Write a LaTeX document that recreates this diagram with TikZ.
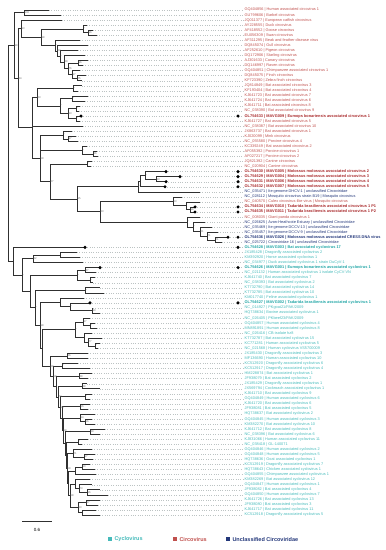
\documentclass[tikz,border=0pt]{standalone}
\usepackage{fontspec}
\setmainfont{Liberation Sans}
\usetikzlibrary{positioning,calc}
\definecolor{cRed}   {HTML}{C0504D}
\definecolor{cRedDk} {HTML}{A8282A}
\definecolor{cTeal}  {HTML}{45BABA}
\definecolor{cTealDk}{HTML}{1FA5A5}
\definecolor{cNavy}  {HTML}{23377A}
\definecolor{cBoot}  {HTML}{6A6A6A}
\definecolor{cLead}  {HTML}{BCC3C3}
\definecolor{cEdge}  {HTML}{303030}

\begin{document}
\begin{tikzpicture}[
  x=1pt, y=-5.05pt,
  br/.style={draw=cEdge, line width=0.55pt},
  leader/.style={draw=cLead, dotted, line width=0.35pt, shorten >=1.5pt},
  lab/.style={anchor=west, inner sep=0pt, font=\fontsize{3.85}{4}\selectfont},
  cr/.style={text=cRed},
  crb/.style={text=cRedDk, font=\fontsize{3.9}{4}\selectfont\bfseries},
  un/.style={text=cNavy},
  unb/.style={text=cNavy, font=\fontsize{3.9}{4}\selectfont\bfseries},
  cy/.style={text=cTeal},
  cyb/.style={text=cTealDk, font=\fontsize{3.9}{4}\selectfont\bfseries},
  tipdot/.style={circle, fill=black, inner sep=0pt, minimum size=3.4pt},
  bs/.style={anchor=west, inner sep=0.4pt, text=cBoot, font=\fontsize{2.7}{3}\selectfont},
  lgsq/.style={minimum size=4.2pt, inner sep=0pt},
  lgtxt/.style={anchor=west, inner sep=0pt, font=\fontsize{5.5}{6}\selectfont\bfseries},
]
\useasboundingbox (0,-0.98) rectangle (385,107.93);

% ---- leaves, labels and leaders
\foreach \r/\tx/\st/\txt in {
  1/49/cr/{GQ404856 | Human associated circovirus 1},
  2/61/cr/{GU799606 | Barbel circovirus},
  3/62/cr/{JQ011377 | European catfish circovirus},
  4/87/cr/{AY228555 | Duck circovirus},
  5/93/cr/{AF418552 | Goose circovirus},
  6/97/cr/{EU056309 | Swan circovirus},
  7/80/cr/{AF311295 | Beak and feather disease virus},
  8/88/cr/{DQ845074 | Gull circovirus},
  9/78/cr/{AF252610 | Pigeon circovirus},
  10/85/cr/{DQ172906 | Starling circovirus},
  11/88/cr/{AJ301633 | Canary circovirus},
  12/83/cr/{DQ146997 | Raven circovirus},
  13/80/cr/{GQ404851 | Chimpanzee associated circovirus 1},
  14/86/cr/{DQ845075 | Finch circovirus},
  15/82/cr/{KF723390 | Zebra finch circovirus},
  16/82/cr/{JQ814849 | Bat associated circovirus 3},
  17/78/cr/{KF193404 | Bat associated circovirus 4},
  18/88/cr/{KJ641723 | Bat associated circovirus 7},
  19/85/cr/{KJ641724 | Bat associated circovirus 6},
  20/80/cr/{KJ641711 | Bat associated circovirus 8},
  21/79/cr/{NC\_038390 | Bat associated circovirus 9},
  22/81/crb/{OL754633 | MAVG009 | Eumops bonariensis associated circovirus 1},
  23/80/cr/{KJ641727 | Bat associated circovirus 5},
  24/83/cr/{NC\_038387 | Bat associated circovirus 10},
  25/72/cr/{JX863737 | Bat associated circovirus 1},
  26/76/cr/{KJ020099 | Mink circovirus},
  27/78/cr/{NC\_055580 | Porcine circovirus 4},
  28/87/cr/{KC339249 | Bat associated circovirus 2},
  29/97/cr/{AF055392 | Porcine circovirus 1},
  30/98/cr/{AF027217 | Porcine circovirus 2},
  31/92/cr/{JQ821392 | Canine circovirus},
  32/91/cr/{NC\_020904 | Canine circovirus},
  33/166/crb/{OL754630 | MAVG005 | Molossus molossus associated circovirus 2},
  34/180/crb/{OL754629 | MAVG004 | Molossus molossus associated circovirus 3},
  35/166/crb/{OL754631 | MAVG006 | Molossus molossus associated circovirus 4},
  36/165/crb/{OL754632 | MAVG007 | Molossus molossus associated circovirus 5},
  37/200/un/{NC\_035471 | Ite genome DHCV-1 | unclassified Circoviridae},
  38/182/un/{NC\_028112 | Mosquito circovirus strain B19 | Mosquito circovirus},
  39/200/cr/{NC\_040570 | Culex circovirus-like virus | Mosquito circovirus},
  40/195/crb/{OL754634 | MAVG010 | Tadarida brasiliensis associated circovirus 1 P1},
  41/195/crb/{OL754635 | MAVG011 | Tadarida brasiliensis associated circovirus 1 P2},
  42/200/cr/{NC\_008035 | Giant panda circovirus 1},
  43/205/un/{NC\_026625 | Avon-Heathcote Estuary | unclassified Circoviridae},
  44/212/un/{NC\_035469 | Ite genome DCCV-13 | unclassified Circoviridae},
  45/218/un/{NC\_035457 | Ite genome DCCV-9 | unclassified Circoviridae},
  46/228/unb/{OL754636 | MAVG026 | Molossus molossus associated CRESS DNA virus},
  47/222/un/{NC\_025722 | Circoviridae 16 | unclassified Circoviridae},
  48/85/cyb/{OL754628 | MAVG003 | Bat associated cyclovirus 17},
  49/77/cy/{JX185428 | Dragonfly associated cyclovirus 2},
  50/80/cy/{KM392920 | Horse associated cyclovirus 1},
  51/83/cy/{NC\_034977 | Duck associated cyclovirus 1 strain DuCyV-1},
  52/100/cyb/{OL754626 | MAVG001 | Eumops bonariensis associated cyclovirus 1},
  53/96/cy/{NC\_021132 | Human associated cyclovirus 1 isolate CyCV-VN},
  54/95/cy/{KJ641740 | Bat associated cyclovirus 7},
  55/93/cy/{NC\_038393 | Bat associated cyclovirus 2},
  56/100/cy/{KT732790 | Bat associated cyclovirus 14},
  57/104/cy/{KT732785 | Bat associated cyclovirus 10},
  58/84/cy/{KM017740 | Feline associated cyclovirus 1},
  59/90/cyb/{OL754627 | MAVG002 | Tadarida brasiliensis associated cyclovirus 1},
  60/93/cy/{NC\_014927 | PKgoat21/PAK/2009},
  61/100/cy/{HQ738634 | Bovine associated cyclovirus 1},
  62/90/cy/{NC\_026405 | PKbeef23/PAK/2009},
  63/95/cy/{GQ404857 | Human associated cyclovirus 4},
  64/97/cy/{MN891891 | Human associated cyclovirus 8},
  65/92/cy/{NC\_026416 | CB-isolate hz8},
  66/102/cy/{KT732787 | Bat associated cyclovirus 15},
  67/100/cy/{KC771281 | Human associated cyclovirus 5},
  68/98/cy/{NC\_021568 | Human cyclovirus VS5700009},
  69/88/cy/{JX185430 | Dragonfly associated cyclovirus 3},
  70/88/cy/{MF136690 | Human associated cyclovirus 10},
  71/78/cy/{KC512920 | Dragonfly associated cyclovirus 6},
  72/90/cy/{KC512917 | Dragonfly associated cyclovirus 4},
  73/92/cy/{HM228874 | Bat associated cyclovirus 1},
  74/88/cy/{JF938079 | Bat associated cyclovirus 2},
  75/87/cy/{JX185429 | Dragonfly associated cyclovirus 1},
  76/100/cy/{JX569794 | Cockroach associated cyclovirus 1},
  77/92/cy/{KJ641710 | Bat associated cyclovirus 9},
  78/90/cy/{GQ404849 | Human associated cyclovirus 6},
  79/90/cy/{KJ641720 | Bat associated cyclovirus 6},
  80/88/cy/{JF938081 | Bat associated cyclovirus 5},
  81/95/cy/{HQ738637 | Bat associated cyclovirus 2},
  82/92/cy/{GQ404845 | Human associated cyclovirus 3},
  83/95/cy/{KM382270 | Bat associated cyclovirus 10},
  84/105/cy/{KJ641712 | Bat associated cyclovirus 8},
  85/100/cy/{NC\_038396 | Bat associated cyclovirus 6},
  86/88/cy/{KJ831066 | Human associated cyclovirus 11},
  87/82/cy/{NC\_038418 | GL-140071},
  88/92/cy/{GQ404846 | Human associated cyclovirus 2},
  89/95/cy/{GQ404848 | Human associated cyclovirus 5},
  90/93/cy/{HQ738636 | Goat associated cyclovirus 1},
  91/90/cy/{KC512919 | Dragonfly associated cyclovirus 7},
  92/95/cy/{HQ738643 | Chicken associated cyclovirus 1},
  93/96/cy/{GQ404855 | Chimpanzee associated cyclovirus 1},
  94/90/cy/{KM382269 | Bat associated cyclovirus 12},
  95/92/cy/{GQ404847 | Human associated cyclovirus 1},
  96/100/cy/{JF938082 | Bat associated cyclovirus 4},
  97/108/cy/{GQ404850 | Human associated cyclovirus 7},
  98/100/cy/{KJ641726 | Bat associated cyclovirus 13},
  99/98/cy/{JF938080 | Bat associated cyclovirus 3},
  100/96/cy/{KJ641717 | Bat associated cyclovirus 11},
  101/100/cy/{KC512918 | Dragonfly associated cyclovirus 5}}{
  \coordinate (t\r) at (\tx,\r);
  \node[lab,\st] (l\r) at (244.5,\r) {\txt};
  \draw[leader] (t\r) -- (l\r.west);
}

% ---- inner nodes, circovirus part
\coordinate (R)   at (8,29.37);
\coordinate (P)   at (14,8.0);
\coordinate (P2)  at (18,14.5);
\coordinate (A)   at (24,1.5);
\coordinate (B)   at (21,4.70);
\coordinate (C)   at (41,6.39);
\coordinate (D)   at (83,4.75);
\coordinate (F)   at (88,5.5);
\coordinate (E)   at (55,8.04);
\coordinate (H6)  at (57,9.08);
\coordinate (H6b) at (60,10.16);
\coordinate (H5)  at (64,11.31);
\coordinate (H4)  at (68,12.63);
\coordinate (H1)  at (78,11.5);
\coordinate (H3)  at (72,13.75);
\coordinate (H2)  at (77,14.5);
\coordinate (K)   at (32,24.3);
\coordinate (J8)  at (37,18.25);
\coordinate (J1)  at (73,16.5);
\coordinate (J7)  at (60,20);
\coordinate (J2)  at (72,18.5);
\coordinate (J6)  at (68,21.5);
\coordinate (J4)  at (76,20.5);
\coordinate (J5)  at (76,22.5);
\coordinate (Z)   at (40,30.36);
\coordinate (M2)  at (63,25.75);
\coordinate (M1)  at (68,26.5);
\coordinate (M4)  at (82,28.75);
\coordinate (M3)  at (93,29.5);
\coordinate (X)   at (50,34.97);
\coordinate (M5)  at (87,31.5);
\coordinate (V)   at (77,38.43);
\coordinate (Q4)  at (138,35.94);
\coordinate (Q3)  at (140,34.88);
\coordinate (Q2)  at (145,33.75);
\coordinate (Q1)  at (156,34.5);
\coordinate (W)   at (100,40.92);
\coordinate (S3)  at (173,38.88);
\coordinate (S2)  at (186,39.75);
\coordinate (S1)  at (190,40.5);
\coordinate (U5)  at (187,42.97);
\coordinate (U4)  at (193,43.94);
\coordinate (U3)  at (200,44.88);
\coordinate (U2)  at (207,45.75);
\coordinate (U1)  at (215,46.5);

% ---- inner nodes, cyclovirus part
\coordinate (Cy)   at (13,50.74);
\coordinate (Sp1)  at (22,53.49);
\coordinate (Sp2)  at (30,56.72);
\coordinate (Sp3)  at (35,59.95);
\coordinate (Sp4)  at (40,63.39);
\coordinate (Sp5)  at (42,67.91);
\coordinate (Sp6)  at (50,71.51);
\coordinate (Sp7)  at (53,73.53);
\coordinate (Sp8)  at (56,75.55);
\coordinate (Sp9)  at (58,77.6);
\coordinate (Sp10) at (60,79.70);
\coordinate (Sp11) at (62,81.89);
\coordinate (Sp12) at (63,84.28);
\coordinate (Sp13) at (65,86.81);
\coordinate (Sp14) at (66,89.12);
\coordinate (Sp15) at (67,91.74);
\coordinate (Sp16) at (68,94.72);
\coordinate (Sp17) at (70,97.19);
\coordinate (c1)  at (60,49.5);
\coordinate (Cb)  at (33,50.25);
\coordinate (c4)  at (85,52.5);
\coordinate (c3)  at (90,54.5);
\coordinate (c5)  at (77,53.5);
\coordinate (c6)  at (85,56.5);
\coordinate (c8)  at (92,60.5);
\coordinate (c9)  at (70,59.75);
\coordinate (c10) at (60,58.88);
\coordinate (c11) at (95,67.5);
\coordinate (c12) at (88,66.75);
\coordinate (c13) at (84,65.88);
\coordinate (c14) at (90,63.5);
\coordinate (c15) at (83,62.75);
\coordinate (c16) at (75,64.31);
\coordinate (c17) at (67,69.5);
\coordinate (c18) at (62,71.5);
\coordinate (c19) at (79,73.5);
\coordinate (c20) at (82,75.5);
\coordinate (c21) at (85,77.5);
\coordinate (c22) at (80,79.5);
\coordinate (c23) at (85,82.5);
\coordinate (c24) at (80,81.75);
\coordinate (c25) at (90,84.5);
\coordinate (c26) at (78,86.5);
\coordinate (c27) at (84,89.5);
\coordinate (c28) at (73,88.75);
\coordinate (c29) at (82,91.5);
\coordinate (c30) at (75,92.25);
\coordinate (c31) at (87,96.5);
\coordinate (c32) at (79,95.75);
\coordinate (c33) at (75,94.88);
\coordinate (c34) at (86,98.5);
\coordinate (c35) at (82,100.5);
\coordinate (c36) at (78,99.5);

% ---- branches
\foreach \p/\c in {R/P, R/Cy, P/A, P/P2, A/t1, A/t2, P2/B, P2/K, B/t3, B/C,
  C/D, C/E, D/t4, D/F, F/t5, F/t6, E/t7, E/H6, H6/t8, H6/H6b, H6b/t9, H6b/H5,
  H5/t10, H5/H4, H4/H1, H4/H3, H1/t11, H1/t12, H3/t13, H3/H2, H2/t14, H2/t15,
  K/J8, K/t24, K/Z, J8/J1, J8/J7, J1/t16, J1/t17, J7/J2, J7/J6, J2/t18, J2/t19,
  J6/J4, J6/J5, J4/t20, J4/t21, J5/t22, J5/t23,
  Z/M2, Z/M4, Z/X, M2/t25, M2/M1, M1/t26, M1/t27, M4/t28, M4/M3, M3/t29, M3/t30,
  X/M5, X/V, M5/t31, M5/t32, V/Q4, V/W, Q4/Q3, Q4/t37, Q3/Q2, Q3/t36,
  Q2/t33, Q2/Q1, Q1/t34, Q1/t35, W/S3, W/U5, S3/t38, S3/S2, S2/t39, S2/S1,
  S1/t40, S1/t41, U5/t42, U5/U4, U4/t43, U4/U3, U3/t44, U3/U2, U2/t45, U2/U1,
  U1/t46, U1/t47,
  Cy/t48, Cy/Sp1, Sp1/Cb, Sp1/Sp2, Cb/c1, Cb/t51, c1/t49, c1/t50,
  Sp2/c5, Sp2/Sp3, c5/c4, c5/c3, c4/t52, c4/t53, c3/t54, c3/t55,
  Sp3/c6, Sp3/Sp4, c6/t56, c6/t57, Sp4/c10, Sp4/Sp5,
  c10/t58, c10/c9, c9/t59, c9/c8, c8/t60, c8/t61, Sp5/c16, Sp5/Sp6,
  c16/c15, c16/c13, c15/t62, c15/c14, c14/t63, c14/t64,
  c13/t65, c13/c12, c12/t66, c12/c11, c11/t67, c11/t68,
  Sp6/c17, Sp6/Sp7, c17/t69, c17/t70, Sp7/c18, Sp7/Sp8, c18/t71, c18/t72,
  Sp8/c19, Sp8/Sp9, c19/t73, c19/t74, Sp9/c20, Sp9/Sp10, c20/t75, c20/t76,
  Sp10/c21, Sp10/Sp11, c21/t77, c21/t78, Sp11/c22, Sp11/Sp12, c22/t79, c22/t80,
  Sp12/c24, Sp12/Sp13, c24/t81, c24/c23, c23/t82, c23/t83,
  Sp13/c25, Sp13/Sp14, c25/t84, c25/t85, Sp14/c26, Sp14/Sp15, c26/t86, c26/t87,
  Sp15/c28, Sp15/Sp16, c28/t88, c28/c27, c27/t89, c27/t90,
  Sp16/c30, Sp16/Sp17, c30/c29, c30/t93, c29/t91, c29/t92,
  Sp17/c33, Sp17/c36, c33/t94, c33/c32, c32/t95, c32/c31, c31/t96, c31/t97,
  c36/c34, c36/c35, c34/t98, c34/t99, c35/t100, c35/t101}
  \draw[br] (\p) |- (\c);

% ---- support values
\foreach \n/\v in {P/99, P2/84, A/100, B/93, C/98, D/*, F/96, E/*, H6/64, H6b/*,
  H5/88, H4/76, H1/96, H3/97, H2/65, K/*, J8/83, J1/*, J7/*, J2/*, J6/93, J4/*, J5/*,
  Z/58, M2/*, M1/97, M4/*, M3/86, X/67, M5/*, V/95, Q4/*, Q2/*, Q1/93, W/83, S3/53,
  S1/98, U5/*, U4/*, U3/61, U2/71, U1/71,
  Sp1/*, Cb/62, c5/*, c4/87, c3/*, Sp3/*, c6/*, Sp4/98, c9/*, c8/99, c16/*, c15/97,
  c14/*, c12/77, c11/*, Sp6/88, c17/86, Sp7/58, c18/*, c19/88, Sp9/74, c20/88,
  Sp10/58, c21/*, c22/56, Sp12/58, c24/54, c23/56, c25/89, c26/*, Sp15/58, c28/71,
  c27/57, c29/50, Sp17/58, c32/73, c31/96, c36/53, c34/87}
  \node[bs] (b\n) at (\n) {\v};

% ---- new sequences
\foreach \r in {22,33,34,35,36,40,41,46,48,52,59}{
  \node[tipdot] (e\r) at (t\r) {};
  \node[tipdot] (d\r) at (238,\r) {};
}

% ---- scale bar
\coordinate (sbL) at (22,102.3);
\coordinate (sbR) at (52,102.3);
\draw[br] (sbL) -- (sbR);
\node[font=\fontsize{4.5}{5}\selectfont] (sbT) at (37,103.9) {0.6};

% ---- legend
\node[lgsq, fill=cTeal] (kCy) at (110,105.8) {};
\node[lgtxt, text=cTeal, right=2pt of kCy] (tCy) {Cyclovirus};
\node[lgsq, fill=cRed] (kCi) at (175,105.8) {};
\node[lgtxt, text=cRed, right=2pt of kCi] (tCi) {Circovirus};
\node[lgsq, fill=cNavy] (kUn) at (228,105.8) {};
\node[lgtxt, text=cNavy, right=2pt of kUn] (tUn) {Unclassified Circoviridae};

\end{tikzpicture}
\end{document}
